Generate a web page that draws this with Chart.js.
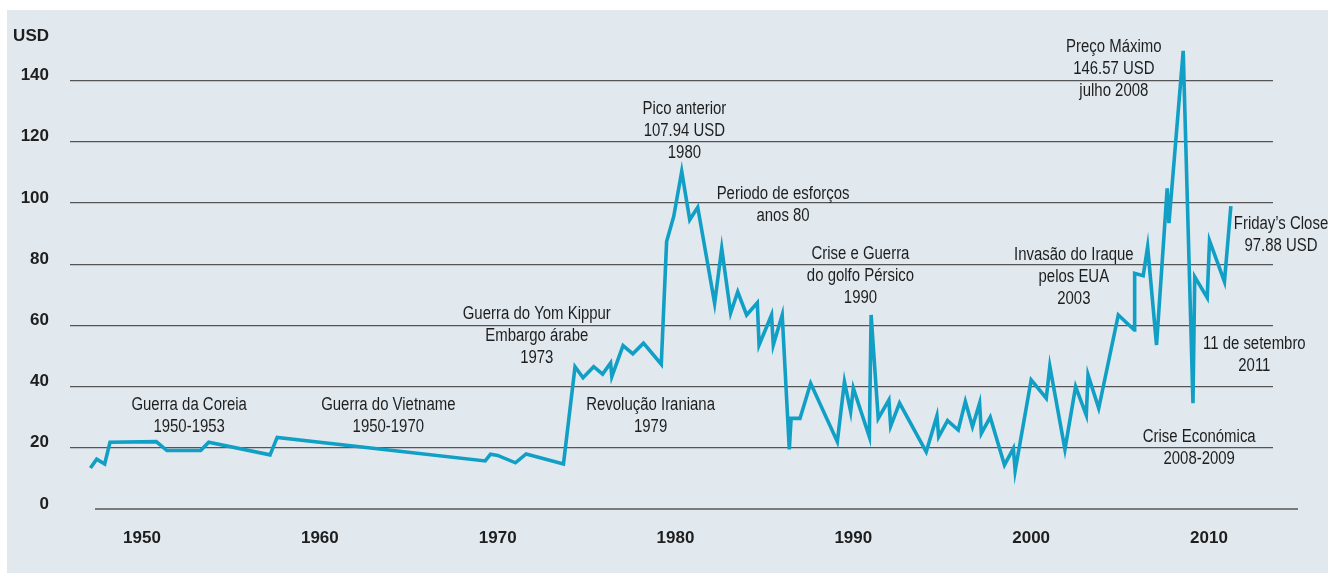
<!DOCTYPE html>
<html>
<head>
<meta charset="utf-8">
<script src="https://cdn.jsdelivr.net/npm/chart.js@4.4.1/dist/chart.umd.min.js"></script>
<style>
  html, body { margin: 0; padding: 0; background: #fff; }
  #wrap { position: absolute; left: 7px; top: 10px; width: 1321px; height: 563px; background: #e1e9ef; }
</style>
</head>
<body>
<div id="wrap"><canvas id="myChart" width="1321" height="563"></canvas></div>
<script>
const FONT = '"Liberation Sans", Arial, sans-serif';

// oil price, USD per barrel
const years = [
  1947.1, 1947.45, 1947.9, 1948.2, 1950.8, 1951.4, 1953.3, 1953.75, 1957.2, 1957.6,
  1969.3, 1969.6, 1970.0, 1971.0, 1971.6, 1973.7, 1974.35, 1974.8, 1975.4, 1975.9,
  1976.35, 1976.42, 1977.05, 1977.6, 1978.2, 1979.2, 1979.5, 1979.9, 1980.35, 1980.8,
  1981.25, 1982.2, 1982.6, 1983.1, 1983.5, 1984.0, 1984.6, 1984.7, 1985.4, 1985.5,
  1986.0, 1986.4, 1986.5, 1987.0, 1987.6, 1989.1, 1989.5, 1989.85, 1990.0, 1990.9,
  1991.0, 1991.4, 1992.0, 1992.1, 1992.6, 1994.1, 1994.7, 1994.8, 1995.3, 1995.9,
  1996.3, 1996.7, 1997.1, 1997.2, 1997.7, 1998.5, 1999.0, 1999.1, 2000.0, 2000.85,
  2001.05, 2001.9, 2002.5, 2003.1, 2003.2, 2003.8, 2004.9, 2005.8, 2005.82, 2006.3,
  2006.55, 2007.05, 2007.65, 2007.75, 2008.55, 2009.1, 2009.2, 2009.9, 2010.03, 2010.87,
  2011.23
];
const prices = [
  13.4, 16.3, 14.7, 21.8, 22.0, 19.1, 19.1, 21.8, 17.7, 23.4,
  15.7, 17.9, 17.5, 15.1, 18.0, 14.7, 46.5, 42.9, 46.5, 44.1,
  47.7, 43.3, 53.4, 50.7, 54.2, 47.3, 87.4, 95.6, 110.3, 94.5,
  98.6, 67.2, 85.2, 64.0, 71.0, 63.4, 67.4, 53.6, 63.4, 53.6,
  63.4, 19.5, 29.6, 29.6, 41.1, 22.0, 41.6, 31.8, 39.5, 23.6,
  63.4, 29.6, 35.6, 27.1, 34.6, 18.7, 30.4, 23.6, 28.9, 25.8,
  35.1, 26.9, 34.6, 24.7, 30.0, 14.4, 19.8, 12.5, 42.2, 36.2,
  46.7, 19.5, 40.0, 30.7, 43.8, 32.9, 63.4, 58.5, 77.0, 76.2,
  85.7, 53.6, 104.8, 93.4, 149.7, 34.6, 75.9, 69.1, 87.7, 74.3,
  99.0
];

const xTicks = [1950, 1960, 1970, 1980, 1990, 2000, 2010];
const yTicks = [0, 20, 40, 60, 80, 100, 120, 140];

// event labels: year, value of the first text line, text lines
const noteYears = [1952.65, 1963.85, 1972.2, 1978.6, 1980.5, 1986.05, 1990.4, 2002.4, 2004.65, 2014.05, 2012.55, 2009.45];
const noteValues = [34.0, 34.0, 63.7, 34.0, 130.8, 103.0, 83.4, 83.0, 151.1, 93.2, 53.9, 23.6];
const noteTexts = [
  ["Guerra da Coreia", "1950-1953"],
  ["Guerra do Vietname", "1950-1970"],
  ["Guerra do Yom Kippur", "Embargo árabe", "1973"],
  ["Revolução Iraniana", "1979"],
  ["Pico anterior", "107.94 USD", "1980"],
  ["Periodo de esforços", "anos 80"],
  ["Crise e Guerra", "do golfo Pérsico", "1990"],
  ["Invasão do Iraque", "pelos EUA", "2003"],
  ["Preço Máximo", "146.57 USD", "julho 2008"],
  ["Friday’s Close", "97.88 USD"],
  ["11 de setembro", "2011"],
  ["Crise Económica", "2008-2009"]
];

const NARROW = 0.83; // squeeze text, the original uses a condensed face

const extras = {
  id: "extras",
  beforeDatasetsDraw(chart) {
    // zero line sits a bit to the right of the other grid lines
    const { ctx, chartArea, scales: { y } } = chart;
    const py = y.getPixelForValue(0);
    ctx.save();
    ctx.strokeStyle = "#555";
    ctx.lineWidth = 1.3;
    ctx.beginPath();
    ctx.moveTo(chartArea.left + 25, py);
    ctx.lineTo(chartArea.right + 25, py);
    ctx.stroke();
    ctx.restore();
  },
  afterDraw(chart) {
    const { ctx, scales: { x, y } } = chart;
    ctx.save();
    ctx.fillStyle = "#1e1e1e";
    ctx.textBaseline = "middle";
    ctx.textAlign = "right";
    ctx.font = "bold 17px " + FONT;
    ctx.fillText("USD", y.right - 21, y.getPixelForValue(140) - 44);
    ctx.textAlign = "center";
    ctx.font = "18px " + FONT;
    noteTexts.forEach((lines, i) => {
      const px = x.getPixelForValue(noteYears[i]);
      const py = y.getPixelForValue(noteValues[i]);
      lines.forEach((t, j) => {
        ctx.save();
        ctx.translate(px, py + j * 22);
        ctx.scale(NARROW, 1);
        ctx.fillText(t, 0, 0);
        ctx.restore();
      });
    });
    ctx.restore();
  }
};

new Chart(document.getElementById("myChart"), {
  type: "line",
  data: {
    datasets: [{
      data: years.map((yr, i) => ({ x: yr, y: prices[i] })),
      borderColor: "#119fc5",
      borderWidth: 3.6,
      pointRadius: 0,
      tension: 0,
      clip: false,
      borderJoinStyle: "miter"
    }]
  },
  options: {
    responsive: false,
    animation: false,
    layout: { padding: { left: 0, right: 55, top: 40, bottom: 0 } },
    plugins: { legend: { display: false }, tooltip: { enabled: false } },
    scales: {
      x: {
        type: "linear",
        min: 1945.95,
        max: 2013.6,
        afterFit: (s) => { s.height = 64; },
        afterBuildTicks: (s) => { s.ticks = xTicks.map(v => ({ value: v })); },
        grid: { display: false },
        border: { display: false },
        ticks: {
          padding: 11,
          color: "#1e1e1e",
          font: { family: FONT, size: 17, weight: "bold" },
          callback: (v) => String(v)
        }
      },
      y: {
        min: 0,
        max: 150,
        afterFit: (s) => { s.width = 63; },
        afterBuildTicks: (s) => { s.ticks = yTicks.map(v => ({ value: v })); },
        grid: {
          drawTicks: false,
          color: (c) => (c.tick && c.tick.value === 0 ? "rgba(0,0,0,0)" : "#555"),
          lineWidth: 1.3
        },
        border: { display: false },
        ticks: {
          padding: 21,
          labelOffset: -5,
          color: "#1e1e1e",
          font: { family: FONT, size: 17, weight: "bold" }
        }
      }
    }
  },
  plugins: [extras]
});
</script>
</body>
</html>
